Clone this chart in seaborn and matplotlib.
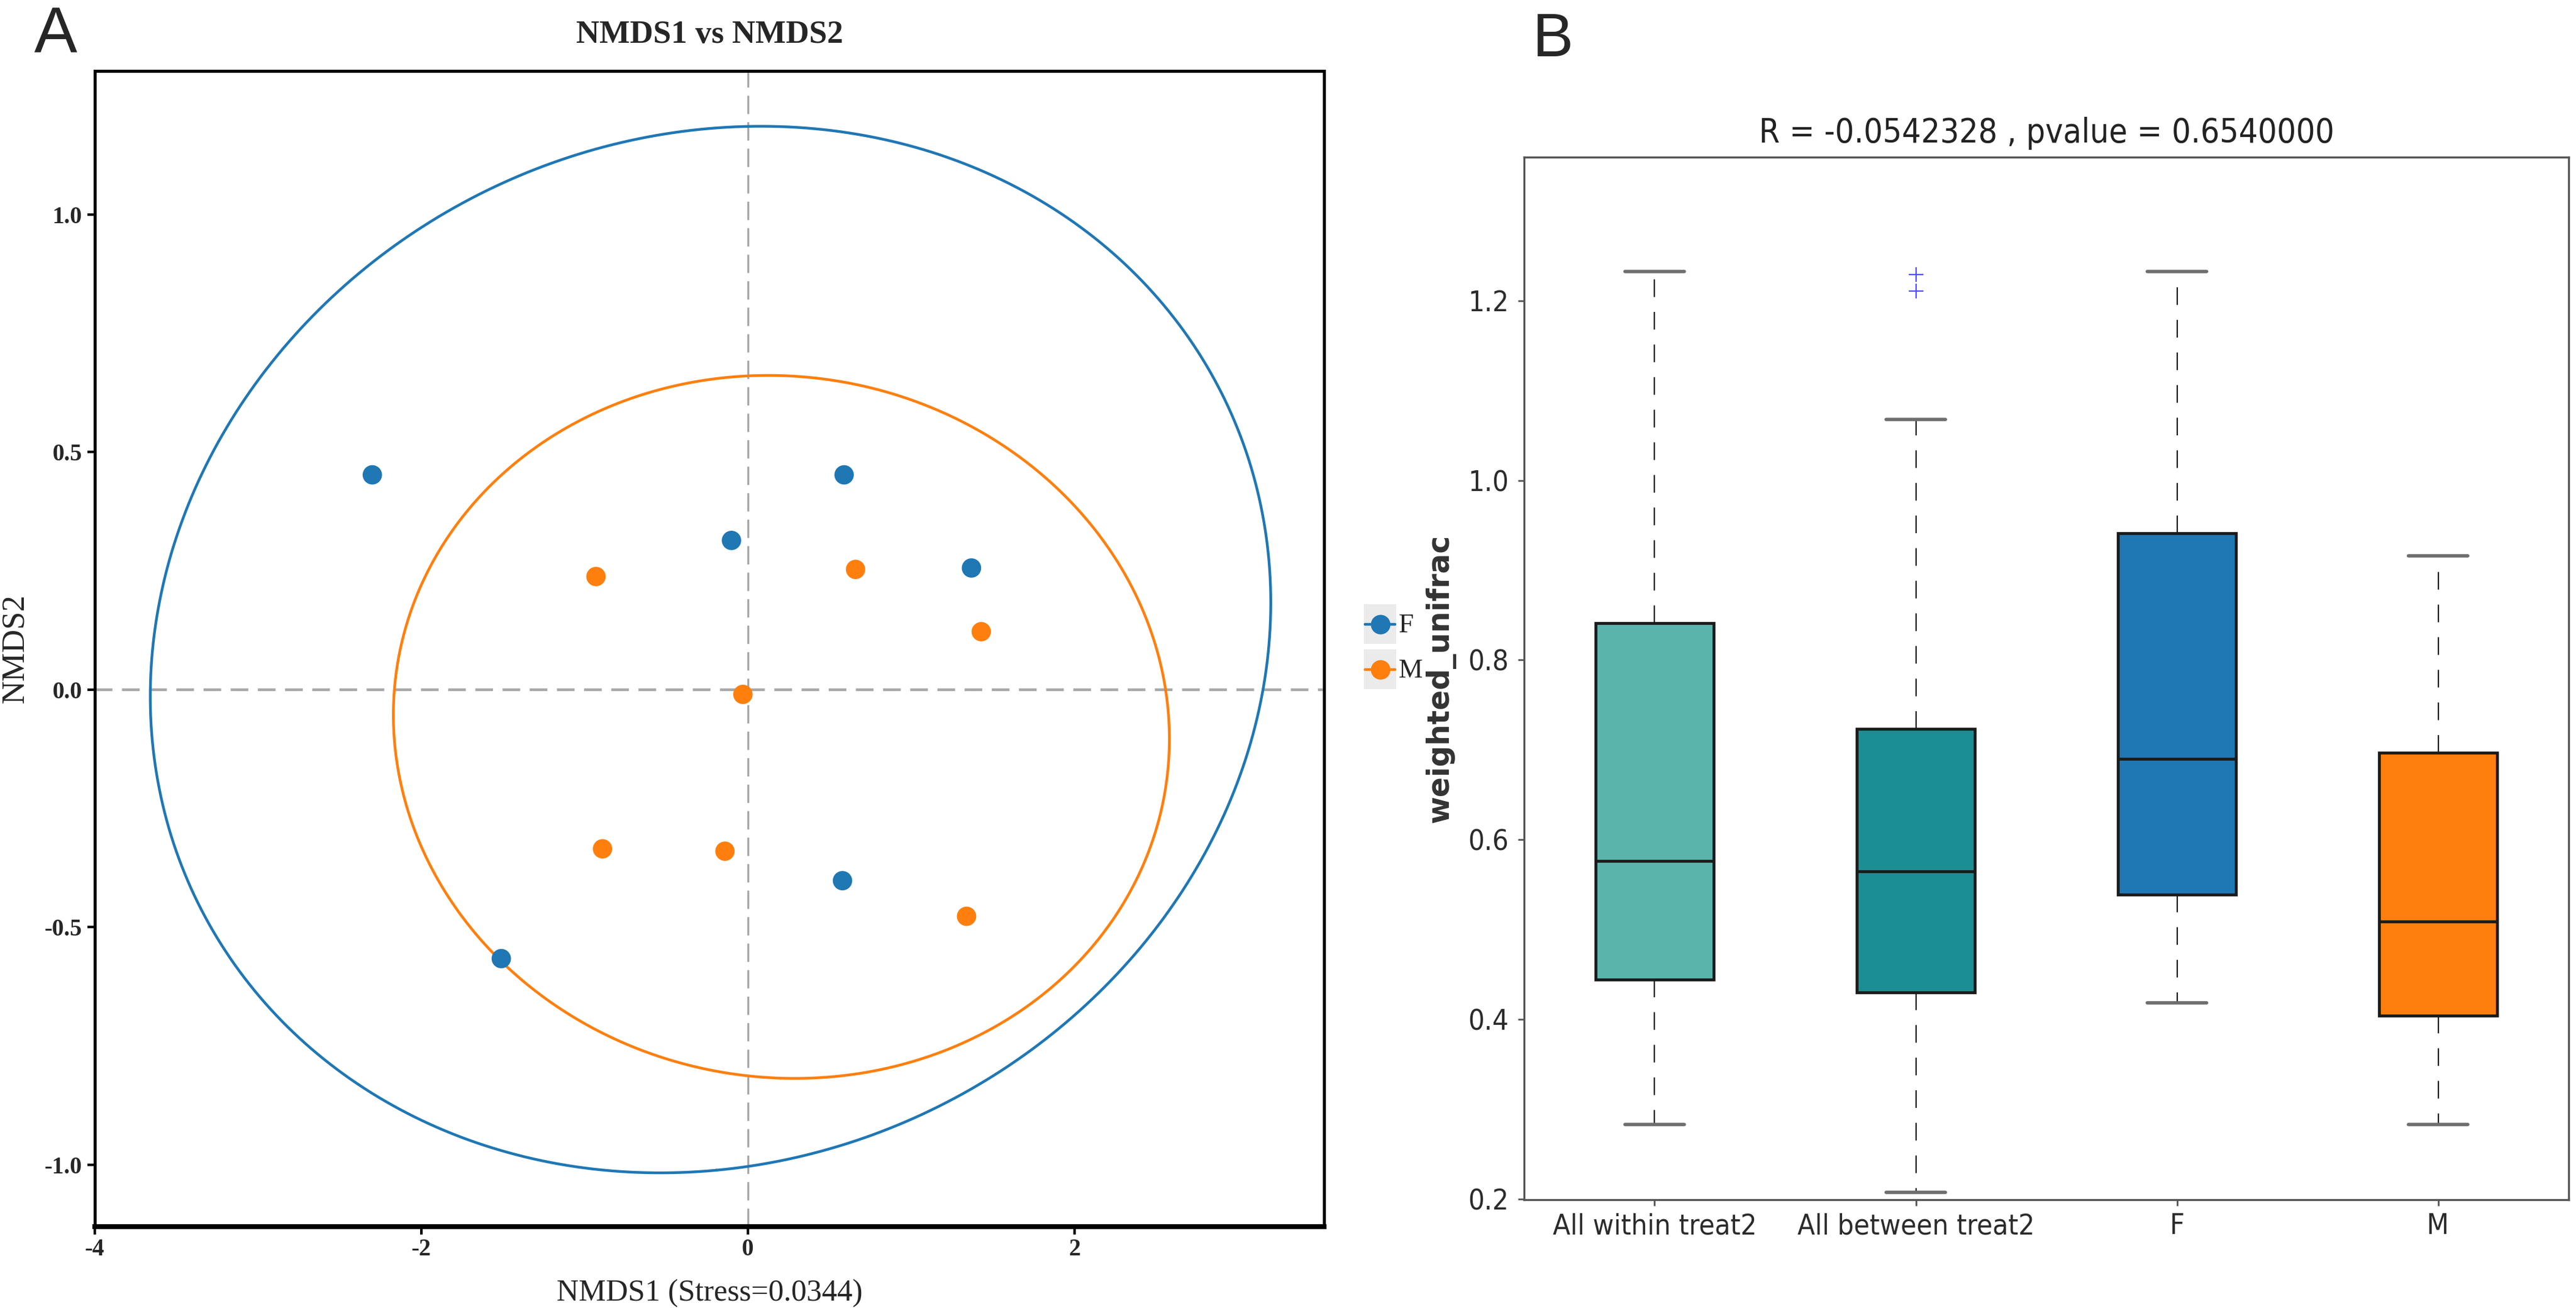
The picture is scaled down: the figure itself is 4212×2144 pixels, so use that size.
import numpy as np
import pandas as pd
import matplotlib
matplotlib.use("Agg")
import matplotlib.pyplot as plt
import seaborn as sns
from matplotlib import font_manager
from matplotlib.patches import Rectangle

# ---- panel A: NMDS scores ----
groups_nmds = ["F", "M"]
F_nmds1 = [-2.30, 0.59, -0.10, 1.37, 0.58, -1.51]
F_nmds2 = [0.452, 0.452, 0.314, 0.256, -0.402, -0.566]
M_nmds1 = [-0.93, 0.66, 1.43, -0.03, -0.89, -0.14, 1.34]
M_nmds2 = [0.238, 0.253, 0.122, -0.010, -0.335, -0.340, -0.477]
stress = 0.0344
A_xticks = [-4, -2, 0, 2]
A_yticks = [-1.0, -0.5, 0.0, 0.5, 1.0]

# ---- panel B: weighted unifrac distances (box summaries) ----
groups_box = ["All within treat2", "All between treat2", "F", "M"]
whislo = [0.283, 0.207, 0.418, 0.283]
q1 = [0.444, 0.430, 0.539, 0.404]
med = [0.576, 0.565, 0.690, 0.509]
q3 = [0.841, 0.723, 0.941, 0.697]
whishi = [1.233, 1.068, 1.233, 0.916]
fliers = [[], [1.229, 1.211], [], []]
R_value = -0.0542328
p_value = 0.654
B_yticks = [0.2, 0.4, 0.6, 0.8, 1.0, 1.2]

palette = {"F": "#1f77b4", "M": "#ff7f0e"}
box_colors = ["#5ab4ac", "#1b8e94", "#1f77b4", "#ff7f0e"]
CHI2_95 = 5.991  # 2 dof, 95%

W, H, DPI = 4212, 2144, 200


def rect(l, t, r, b):
    return [l / W, 1 - b / H, (r - l) / W, (b - t) / H]


sns.set_style("ticks")
plt.rcParams["font.family"] = ["DejaVu Sans"]
plt.rcParams["axes.unicode_minus"] = False

# panel B text in the source is a squeezed DejaVu Sans; use a narrow face if one exists
fonts = font_manager.fontManager.ttflist
names = {f.name for f in fonts}
b_stretch = "normal"
if "Liberation Sans Narrow" in names:
    b_family = ["Liberation Sans Narrow", "DejaVu Sans"]
    b_k = 1.0
elif any(f.name == "DejaVu Sans" and f.stretch == "condensed" for f in fonts):
    b_family = ["DejaVu Sans"]
    b_stretch = "condensed"
    b_k = 0.82
else:
    b_family = ["DejaVu Sans"]
    b_k = 0.78
b_font = dict(fontfamily=b_family, fontstretch=b_stretch)
serif = ["Liberation Serif", "DejaVu Serif"]

fig = plt.figure(figsize=(W / DPI, H / DPI), dpi=DPI)

# ================= A =================
axA = fig.add_axes(rect(155, 116, 2165, 2006))
nmds = pd.DataFrame({
    "NMDS1": F_nmds1 + M_nmds1,
    "NMDS2": F_nmds2 + M_nmds2,
    "group": ["F"] * len(F_nmds1) + ["M"] * len(M_nmds1),
})
axA.axhline(0, color="#a8a8a8", lw=1.6, ls=(0, (6.5, 3.5)), zorder=1)
axA.axvline(0, color="#a8a8a8", lw=1.2, ls=(0, (9, 4)), zorder=1)

t = np.linspace(0, 2 * np.pi, 400)
for g in groups_nmds:
    sub = nmds[nmds["group"] == g]
    xy = sub[["NMDS1", "NMDS2"]].to_numpy()
    mu = xy.mean(axis=0)
    vals, vecs = np.linalg.eigh(np.cov(xy.T))
    circ = np.vstack([np.cos(t), np.sin(t)]) * np.sqrt(CHI2_95 * vals)[:, None]
    ell = (vecs @ circ).T + mu
    axA.plot(ell[:, 0], ell[:, 1], color=palette[g], lw=1.6, zorder=2)

sns.scatterplot(data=nmds, x="NMDS1", y="NMDS2", hue="group", palette=palette,
                s=130, linewidth=0, legend=False, ax=axA, zorder=3)

axA.set_xlim(-4, 3.53)
axA.set_ylim(-1.13, 1.302)
axA.set_xticks(A_xticks, labels=[f"{v:g}" for v in A_xticks],
               fontfamily=serif, fontweight="bold", fontsize=14)
axA.set_yticks(A_yticks, labels=[f"{v:.1f}" for v in A_yticks],
               fontfamily=serif, fontweight="bold", fontsize=14)
axA.tick_params(axis="both", direction="out", length=4.5, width=1.5, color="black")
axA.tick_params(axis="y", pad=3)
axA.tick_params(axis="x", pad=2.5)
for s in axA.spines.values():
    s.set_visible(True)
    s.set_color("black")
    s.set_linewidth(1.8)
axA.spines["bottom"].set_linewidth(2.9)

axA.set_xlabel(f"NMDS1 (Stress={stress})", fontfamily=serif, fontsize=18, va="top")
axA.xaxis.set_label_coords(0.5, -0.0455)
axA.set_ylabel("NMDS2", fontfamily=serif, fontsize=19)
axA.yaxis.set_label_coords(-0.0527, 0.5)
fig.text(1160 / W, 1 - 70 / H, "NMDS1 vs NMDS2", ha="center", va="baseline",
         fontfamily=serif, fontweight="bold", fontsize=19)
fig.text(56 / W, 1 - 85 / H, "A", ha="left", va="baseline",
         fontfamily=["Liberation Sans", "DejaVu Sans"], fontsize=38)

# legend between the panels
axL = fig.add_axes(rect(2225, 980, 2345, 1140))
axL.set_xlim(2225, 2345)
axL.set_ylim(1140, 980)
axL.axis("off")
for i, g in enumerate(groups_nmds):
    top = 988 + i * 74
    axL.add_patch(Rectangle((2230, top), 53, 65, facecolor="#ebebeb", edgecolor="none"))
    cy = top + 33
    axL.plot([2232, 2281], [cy, cy], color=palette[g], lw=1.6)
    axL.plot([2257], [cy], marker="o", ms=11.5, color=palette[g], mec="none")
    axL.text(2287, cy + 2, g, ha="left", va="center", fontfamily=serif, fontsize=16)

# ================= B =================
axB = fig.add_axes(rect(2492, 257, 4200, 1962))
stats = [dict(label=g, whislo=a, q1=b, med=c, q3=d, whishi=e, fliers=f)
         for g, a, b, c, d, e, f in zip(groups_box, whislo, q1, med, q3, whishi, fliers)]
positions = list(range(1, len(groups_box) + 1))
bp = axB.bxp(stats, positions=positions, widths=0.45, patch_artist=True,
             boxprops=dict(edgecolor="#1a1a1a", linewidth=1.7),
             whiskerprops=dict(color="#1a1a1a", linewidth=0.8, linestyle=(0, (13, 11))),
             capprops=dict(color="#6e6e6e", linewidth=2.0),
             medianprops=dict(color="#1a1a1a", linewidth=1.7),
             flierprops=dict(marker="+", markeredgecolor="#4f4fff", markersize=8.5,
                             markeredgewidth=0.8, linestyle="none"))
for patch, col in zip(bp["boxes"], box_colors):
    patch.set_facecolor(col)

axB.set_xlim(0.5, 4.5)
axB.set_ylim(0.199, 1.36)
axB.set_xticks(positions, labels=groups_box, fontsize=20.5 * b_k, **b_font)
axB.set_yticks(B_yticks, labels=[f"{v:.1f}" for v in B_yticks],
               fontsize=20.5 * b_k, **b_font)
axB.tick_params(axis="both", direction="out", length=3.6, width=1.0,
                color="#555555", labelcolor="#2b2b2b")
axB.tick_params(axis="x", pad=4)
axB.tick_params(axis="y", pad=5.4)
for s in axB.spines.values():
    s.set_visible(True)
    s.set_color("#555555")
    s.set_linewidth(1.2)
axB.set_ylabel("weighted_unifrac", fontfamily=["DejaVu Sans"], fontweight="bold",
               fontsize=17.5, color="#333333")
axB.yaxis.set_label_coords(-0.0656, 0.5)
fig.text(3346 / W, 1 - 233 / H, f"R = {R_value:.7f} , pvalue = {p_value:.7f}",
         ha="center", va="baseline", fontsize=24 * b_k, color="#222222", **b_font)
fig.text(2506 / W, 1 - 92 / H, "B", ha="left", va="baseline",
         fontfamily=["Liberation Sans", "DejaVu Sans"], fontsize=36)

fig.savefig("out.png", dpi=DPI)
